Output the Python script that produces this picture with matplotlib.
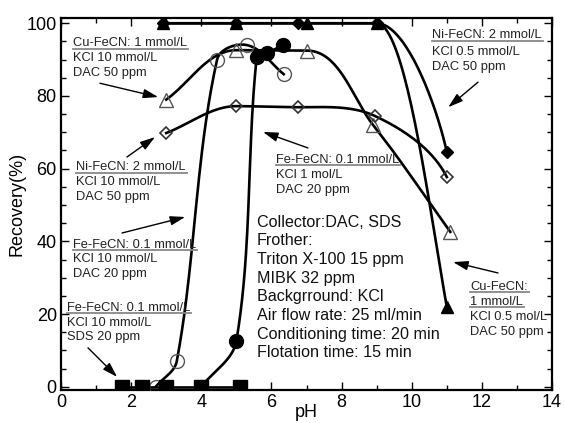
import numpy as np
import matplotlib
matplotlib.use('Agg')
import matplotlib.pyplot as plt
from matplotlib.lines import Line2D
from matplotlib.transforms import IdentityTransform

plt.rcParams['font.family'] = ['Liberation Sans', 'DejaVu Sans']

# data (pH, recovery %)
ph_sq = [1.75, 2.3, 3.0, 4.0, 5.1]
rec_sq = [0, 0, 0, 0, 0]

ph_oc = [2.7, 3.3, 4.45, 5.3, 6.35]
rec_oc = [0, 7, 90, 94, 86]

ph_fc = [4.0, 5.0, 5.58, 5.87, 6.33]
rec_fc = [0, 12.6, 90.7, 91.8, 94.0]

ph_ot = [3.0, 5.0, 7.0, 8.9, 11.1]
rec_ot = [79, 92.6, 92.5, 72, 42.6]

ph_od = [3.0, 5.0, 6.75, 8.95, 11.0]
rec_od = [69.8, 77.2, 76.9, 74.5, 57.7]

ph_ft = [2.9, 5.0, 7.0, 9.0, 11.0]
rec_ft = [100, 100, 100, 100, 22]

ph_fd = [2.9, 5.0, 6.75, 9.0, 11.0]
rec_fd = [100, 100, 100, 100, 64.6]

info = ['Collector:DAC, SDS', 'Frother:', 'Triton X-100 15 ppm', 'MIBK 32 ppm',
        'Backgrround: KCl', 'Air flow rate: 25 ml/min',
        'Conditioning time: 20 min', 'Flotation time: 15 min']

# approx screen scale (px per unit) so the curves bend like on paper
SX, SY = 35.07, 3.64


def smooth(xs, ys, n=40, flat=0.3, k0=1.0, end=None):
    # hermite curve in screen space, tangents scaled by chord length
    p = np.column_stack([np.asarray(xs, float) * SX, np.asarray(ys, float) * SY])
    m = len(p)
    tan, kk = [], []
    for i in range(m):
        a = p[max(i - 1, 0)]
        b = p[min(i + 1, m - 1)]
        d = b - a
        k = 1.0
        fl = (i > 0 and abs(ys[i] - ys[i - 1]) < flat) or (i < m - 1 and abs(ys[i + 1] - ys[i]) < flat)
        if fl:
            d = np.array([1.0, 0.0])
            k = k0
        if i == m - 1 and end is not None:
            d = np.array(end, float)
        tan.append(d / np.linalg.norm(d))
        kk.append(k)
    s = np.linspace(0, 1, n)[:, None]
    h00 = 2 * s**3 - 3 * s**2 + 1
    h10 = s**3 - 2 * s**2 + s
    h01 = -2 * s**3 + 3 * s**2
    h11 = s**3 - s**2
    out = []
    for i in range(m - 1):
        L = np.linalg.norm(p[i + 1] - p[i])
        out.append(h00 * p[i] + h10 * L * kk[i] * tan[i]
                   + h01 * p[i + 1] + h11 * L * kk[i + 1] * tan[i + 1])
    c = np.vstack(out)
    return c[:, 0] / SX, c[:, 1] / SY


fig = plt.figure(figsize=(5.65, 4.23), dpi=100)
ax = fig.add_axes([0.108, 0.078, 0.869, 0.879])

lw = 1.9
ax.plot(ph_sq, rec_sq, color='k', lw=lw, zorder=2)
curves = [(ph_oc, rec_oc, {}), (ph_fc, rec_fc, {}), (ph_ot, rec_ot, {}),
          (ph_od, rec_od, {'end': (0.5, -1.0)}),
          (ph_ft, rec_ft, {'k0': 0.3, 'end': (0.18, -1.0)}),
          (ph_fd, rec_fd, {'k0': 0.6, 'end': (0.22, -1.0)})]
for xs, ys, kw in curves:
    sx, sy = smooth(xs, ys, **kw)
    ax.plot(sx, sy, color='k', lw=lw, zorder=2)

mk = dict(ls='none', zorder=3)
ax.plot(ph_oc, rec_oc, marker='o', ms=10, mfc='none', mec='#555', mew=1, **mk)
ax.plot(ph_ot, rec_ot, marker='^', ms=9.5, mfc='none', mec='#555', mew=1, **mk)
ax.plot(ph_od, rec_od, marker='D', ms=6.5, mfc='none', mec='#333', mew=1.2, **mk)
ax.plot(ph_sq, rec_sq, marker='s', ms=9.5, color='k', **mk)
ax.plot(ph_fc, rec_fc, marker='o', ms=10, color='k', **mk)
ax.plot(ph_ft, rec_ft, marker='^', ms=9, color='k', **mk)
ax.plot(ph_fd, rec_fd, marker='D', ms=6.5, color='k', **mk)

ax.set_xlim(0, 14)
ax.set_ylim(-0.9, 101.4)
ax.set_xticks(np.arange(0, 15, 2))
ax.set_xticks(np.arange(0, 15, 1), minor=True)
ax.set_yticks(np.arange(0, 101, 20))
ax.set_yticks(np.arange(0, 101, 5), minor=True)
ax.tick_params(which='both', direction='in', top=True, right=True, labelsize=13, width=1)
ax.tick_params(which='major', length=6, pad=3)
ax.tick_params(which='minor', length=3.5)
for s in ax.spines.values():
    s.set_linewidth(1.6)
ax.set_xlabel('pH', fontsize=13, labelpad=-5)
ax.set_ylabel('Recovery(%)', fontsize=13, labelpad=1)

# small annotations: (x, [lines], number of underlined lines)
notes = [
    (0.34, [94.5, 90.4, 86.3], ['Cu-FeCN: 1 mmol/L', 'KCl 10 mmol/L', 'DAC 50 ppm'], 1),
    (0.43, [60.4, 56.3, 52.2], ['Ni-FeCN: 2 mmol/L', 'KCl 10 mmol/L', 'DAC 50 ppm'], 1),
    (0.34, [39.0, 35.2, 31.0], ['Fe-FeCN: 0.1 mmol/L', 'KCl 10 mmol/L', 'DAC 20 ppm'], 1),
    (0.17, [21.7, 17.6, 13.7], ['Fe-FeCN: 0.1 mmol/L', 'KCl 10 mmol/L', 'SDS 20 ppm'], 1),
    (6.13, [62.4, 58.2, 54.1], ['Fe-FeCN: 0.1 mmol/L', 'KCl 1 mol/L', 'DAC 20 ppm'], 1),
    (10.58, [96.7, 92.0, 87.9], ['Ni-FeCN: 2 mmol/L', 'KCl 0.5 mmol/L', 'DAC 50 ppm'], 1),
    (11.66, [27.5, 23.4, 19.2, 15.1], ['Cu-FeCN:', '1 mmol/L', 'KCl 0.5 mol/L', 'DAC 50 ppm'], 2),
]
under = []
for x, ys, lines, nu in notes:
    for i, (y, s) in enumerate(zip(ys, lines)):
        t = ax.text(x, y, s, fontsize=9.3, color='#222', ha='left', va='center', zorder=4)
        if i < nu:
            under.append(t)

arrows = [
    ((1.11, 83.5), (2.77, 79.7)),
    ((1.88, 63.2), (2.68, 68.7)),
    ((1.74, 42.3), (3.54, 46.7)),
    ((0.77, 10.7), (1.60, 2.7)),
    ((7.04, 65.7), (5.76, 70.1)),
    ((11.89, 83.8), (11.04, 76.9)),
    ((12.46, 31.3), (11.18, 34.3)),
]
for tail, head in arrows:
    ax.annotate('', xy=head, xytext=tail,
                arrowprops=dict(arrowstyle='-|>,head_length=0.9,head_width=0.28',
                                color='k', lw=1, shrinkA=0, shrinkB=0))

y0 = 45.3
for i, s in enumerate(info):
    ax.text(5.59, y0 - i * 5.14, s, fontsize=11.6, color='#111', ha='left', va='center')

fig.canvas.draw()
r = fig.canvas.get_renderer()
for t in under:
    bb = t.get_window_extent(r)
    yy = bb.y0 + 0.5
    fig.add_artist(Line2D([bb.x0, bb.x1 + 1], [yy, yy], transform=IdentityTransform(),
                          color='#888', lw=1.3))

fig.savefig('out.png', dpi=100)
